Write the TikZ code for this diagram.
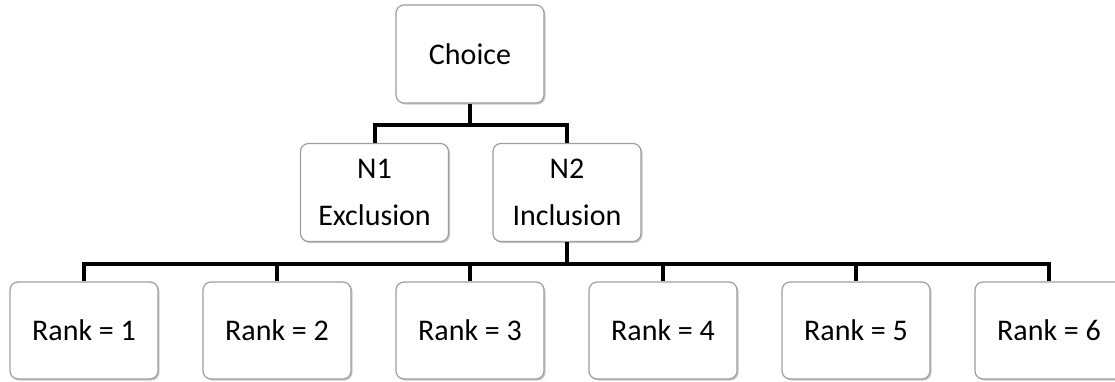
\documentclass[tikz,border=0pt]{standalone}
\usepackage{fontspec}
\setmainfont{Carlito}
\usetikzlibrary{shadows}
\begin{document}
\begin{tikzpicture}[x=1pt,y=-1pt,
  box/.style={draw=black!38, line width=1.2pt, fill=white, rounded corners=8pt,
    minimum width=148pt, inner sep=0pt, align=center,
    font=\fontsize{30}{47}\selectfont,
    drop shadow={shadow xshift=1.5pt, shadow yshift=-1.5pt, opacity=0.35, fill=black!60}},
  topbox/.style={box, minimum height=98pt},
  rankbox/.style={box, minimum height=97pt},
  conn/.style={draw=black, line width=4pt, line join=miter}]
\useasboundingbox (0,0) rectangle (1115,381);
\fill[white] (0,0) rectangle (1115,381);
\node[topbox] (choice) at (470,54) {Choice};
\node[topbox] (n1) at (374.5,192.5) {N1\\Exclusion};
\node[topbox] (n2) at (567,192.5) {N2\\Inclusion};
\node[rankbox] (r1) at (84,330.5) {Rank = 1};
\node[rankbox] (r2) at (277,330.5) {Rank = 2};
\node[rankbox] (r3) at (470,330.5) {Rank = 3};
\node[rankbox] (r4) at (663,330.5) {Rank = 4};
\node[rankbox] (r5) at (856,330.5) {Rank = 5};
\node[rankbox] (r6) at (1049,330.5) {Rank = 6};
\draw[conn] (choice.south) -- ++(0,21) -| (n1.north);
\draw[conn] (choice.south) ++(0,21) -| (n2.north);
\foreach \r in {r1,r2,r3,r4,r5,r6}{
  \draw[conn] (n2.south) -- ++(0,22) -| (\r.north);
}
\end{tikzpicture}
\end{document}
